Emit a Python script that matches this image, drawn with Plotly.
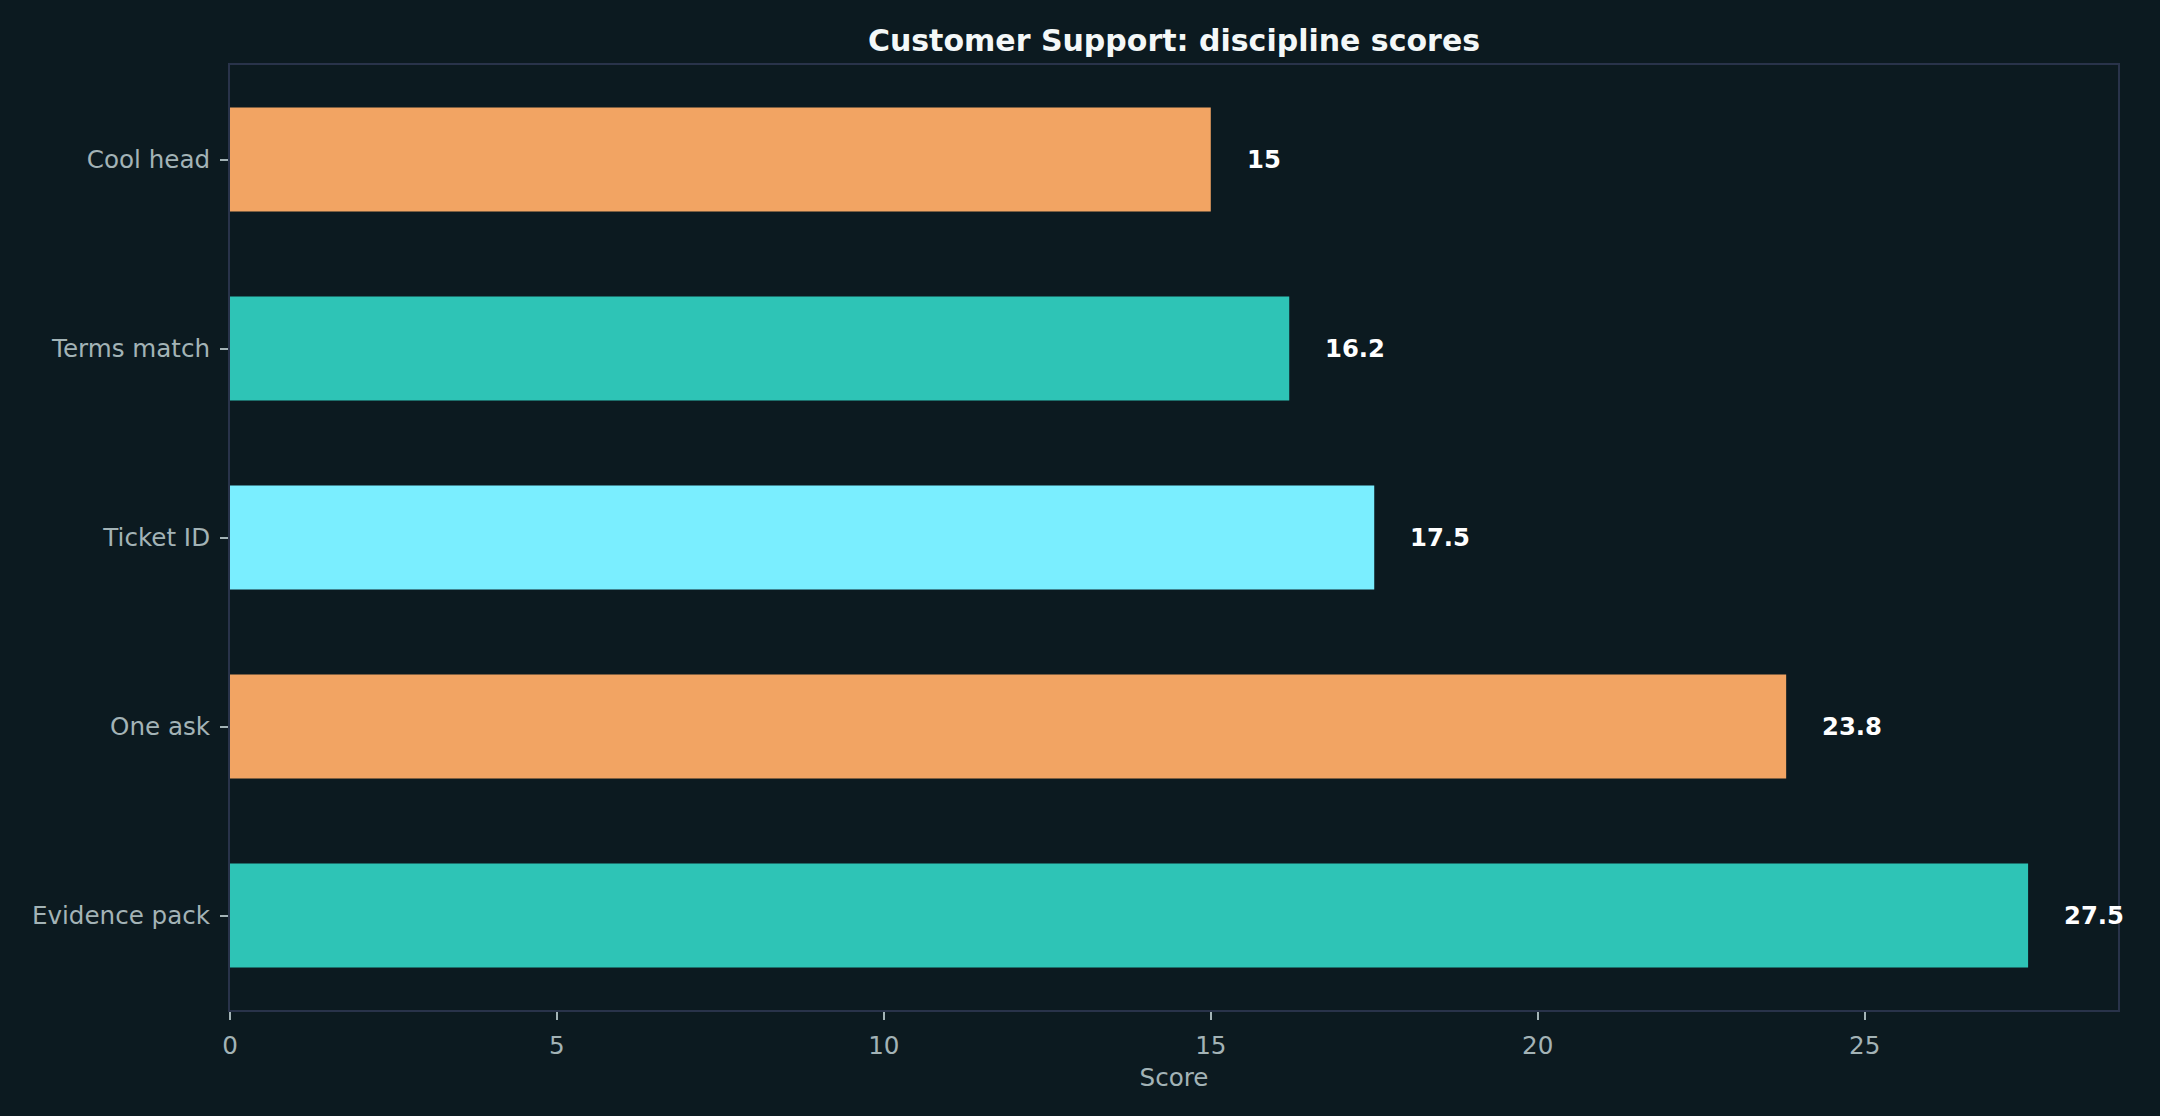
import plotly.graph_objects as go

# -----------------------------
# Datos
# -----------------------------
categorias = ["Evidence pack", "One ask", "Ticket ID", "Terms match", "Cool head"]
puntajes = [27.5, 23.8, 17.5, 16.2, 15]
colores = ["#2ec4b6", "#f2a463", "#7aeeff", "#2ec4b6", "#f2a463"]
etiquetas = ["27.5", "23.8", "17.5", "16.2", "15"]

fondo = "#0c1a20"
marco = "#29334a"
gris = "#a3b3b6"
fuente = "DejaVu Sans"

fig = go.Figure(go.Bar(
    x=puntajes,
    y=categorias,
    orientation="h",
    width=0.55,
    marker=dict(color=colores, line=dict(width=0)),
    hovertemplate="%{y}: %{x}<extra></extra>",
))

# Etiquetas de valor a la derecha de cada barra
for cat, val, txt in zip(categorias, puntajes, etiquetas):
    fig.add_annotation(
        x=val, y=cat, text="<b>" + txt + "</b>",
        showarrow=False, xanchor="left", yanchor="middle",
        xshift=34,
        font=dict(family=fuente, size=24.3, color="#ffffff"),
    )

fig.update_layout(
    width=2160,
    height=1116,
    paper_bgcolor=fondo,
    plot_bgcolor=fondo,
    margin=dict(l=230, r=42, t=65, b=106),
    showlegend=False,
    title=dict(
        text="<b>Customer Support: discipline scores</b>",
        x=0.5 * (230 + 2118) / 2160, xanchor="center",
        y=1 - 40 / 1116, yanchor="middle",
        font=dict(family=fuente, size=30, color="#f4f8f8"),
    ),
    xaxis=dict(
        range=[0, 28.875],
        tickvals=[0, 5, 10, 15, 20, 25],
        showgrid=False, zeroline=False,
        showline=True, mirror=True, linecolor=marco, linewidth=2,
        ticks="outside", ticklen=8, tickwidth=1.5, tickcolor=gris,
        ticklabelstandoff=4,
        tickfont=dict(family=fuente, size=24.6, color=gris),
        title=dict(text="Score", font=dict(family=fuente, size=24.6, color=gris), standoff=10),
    ),
    yaxis=dict(
        range=[-0.5, 4.5],
        showgrid=False, zeroline=False,
        showline=True, mirror=True, linecolor=marco, linewidth=2,
        ticks="outside", ticklen=8, tickwidth=1.5, tickcolor=gris,
        ticklabelstandoff=5,
        tickfont=dict(family=fuente, size=24.6, color=gris),
    ),
)

# sin margen blanco del body ni barra de herramientas
fig.write_html(
    "out.html",
    config={"displayModeBar": False},
    post_script="document.body.style.margin='0';document.body.style.overflow='hidden';document.body.style.background='#0c1a20';",
)
